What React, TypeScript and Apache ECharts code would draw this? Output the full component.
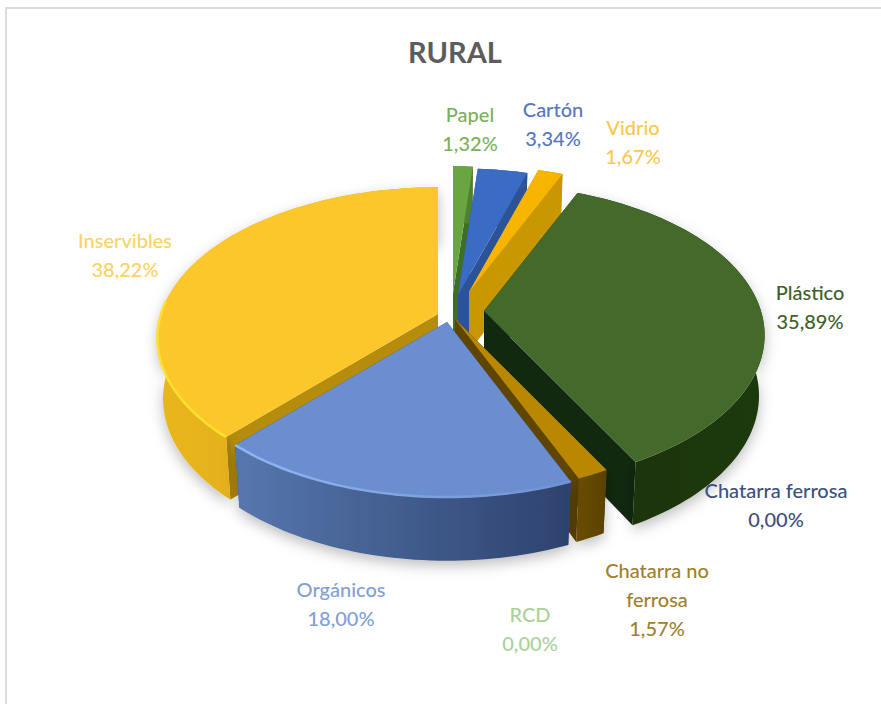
import React, { useEffect, useRef } from "react";
import * as echarts from "echarts";

// ---- data, clockwise from 12 o'clock ----
const categories = ["Papel", "Cartón", "Vidrio", "Plástico", "Chatarra ferrosa", "Chatarra no ferrosa", "RCD", "Orgánicos", "Inservibles"];
const shares = [1.32, 3.34, 1.67, 35.89, 0, 1.57, 0, 18.0, 38.22];
const shareLabels = ["1,32%", "3,34%", "1,67%", "35,89%", "0,00%", "1,57%", "0,00%", "18,00%", "38,22%"];

// ---- layout and styling ----
const paintOrder = [0, 1, 2, 8, 3, 5, 7];
const labelLines = ["Papel", "Cartón", "Vidrio", "Plástico", "Chatarra ferrosa", "Chatarra no\nferrosa", "RCD", "Orgánicos", "Inservibles"];
const labelAnchor = [[470, 128], [553, 123], [633, 141], [810, 306], [776, 504], [657, 599], [530, 628], [341, 603], [125, 254]];
const labelColors = ["#7cb05a", "#5577c0", "#fcc74a", "#3f5f2b", "#3c5080", "#a08030", "#a9d196", "#80a0d6", "#fdd263"];
const explodedApex = [[453, 293], [458, 295], [469, 292], [484, 311], [0, 0], [455, 319], [0, 0], [447, 322], [438, 314]];
const topColors = ["#69a540", "#3a6cc6", "#f7b500", "#436a2b", "", "#b98800", "", "#6a8ed0", "#fcc72a"];
const rimStart = ["", "", "", "", "", "", "", "#6f93d4", "#ffe02e"];
const rimEnd = ["", "", "", "", "", "", "", "#90b6f3", "#ffe02e"];
const radialWall = ["#3f6e28", "#2c5398", "#c99800", "#10290f", "", "#5f4500", "", "#2f4470", "#b58c0c"];
const outerWall: string[][] = [
  ["#4f8030", "#4f8030"], ["#2c5398", "#2c5398"], ["#c99800", "#c99800"], ["#1a320f", "#1f3a11"], [],
  ["#6b4e00", "#5a4100"], [], ["#5677ae", "#2e426e"], ["#e9b61f", "#d9a51c"],
];
const castsShadow = [false, false, false, true, false, true, false, true, true];

const RX = 277, RY = 147, PERSPECTIVE = 0.16, DEPTH = 60, TAPER = 0.98;

function project(ax: number, ay: number, th: number, r: number, bottom: boolean) {
  const u = r * Math.sin(th), v = -r * Math.cos(th);
  const s = 1 / (1 - PERSPECTIVE * v);
  let x = RX * u * s, y = RY * v * s;
  if (bottom) {
    x *= TAPER;
    y = y * 0.99 + DEPTH * Math.sqrt(s);
  }
  return [ax + x, ay + y];
}

const total = shares.reduce((a, b) => a + b, 0);
const startOf = (i: number) => shares.slice(0, i).reduce((a, b) => a + b, 0);

function arc(ax: number, ay: number, t0: number, t1: number, bottom: boolean) {
  const n = Math.max(2, Math.ceil((t1 - t0) / 0.025));
  const pts: number[][] = [];
  for (let k = 0; k <= n; k++) pts.push(project(ax, ay, t0 + ((t1 - t0) * k) / n, 1, bottom));
  return pts;
}

function renderSlice(_: any, api: any) {
  const i = api.value(2) as number;
  const t0 = (api.value(1) / total) * 2 * Math.PI;
  const t1 = t0 + (api.value(0) / total) * 2 * Math.PI;
  const [ax, ay] = explodedApex[i];
  const topArc = arc(ax, ay, t0, t1, false);
  const botArc = arc(ax, ay, t0, t1, true);
  const apexTop = project(ax, ay, 0, 0, false);
  const apexBot = project(ax, ay, 0, 0, true);
  const children: any[] = [];
  const wall = (points: number[][], fill: any, extra: any = {}) =>
    children.push({ type: "polygon", shape: { points }, style: { fill, ...extra }, silent: true });

  // radial walls go first: the outer wall and the top hide whichever one faces away
  wall([apexTop, topArc[0], botArc[0], apexBot], radialWall[i]);
  wall([apexTop, topArc[topArc.length - 1], botArc[botArc.length - 1], apexBot], radialWall[i]);
  wall(
    [...topArc, ...botArc.slice().reverse()],
    new echarts.graphic.LinearGradient(0, 0, 1, 0, [
      { offset: 0, color: outerWall[i][0] },
      { offset: 1, color: outerWall[i][1] },
    ]),
    castsShadow[i] ? { shadowColor: "rgba(0,0,0,0.26)", shadowBlur: 14, shadowOffsetY: 5 } : {}
  );
  wall([apexTop, ...topArc], topColors[i]);
  const frontRim = topArc.filter((_p, k) => {
    const th = t0 + ((t1 - t0) * k) / (topArc.length - 1);
    return Math.cos(th) < 0.1;
  });
  if (frontRim.length > 1 && rimStart[i]) {
    children.push({
      type: "polyline",
      shape: { points: frontRim },
      style: {
        stroke: new echarts.graphic.LinearGradient(0, 0, 1, 0, [
          { offset: 0, color: rimEnd[i] },
          { offset: 1, color: rimStart[i] },
        ]),
        lineWidth: 2.5,
        fill: "none",
      },
      silent: true,
    });
  }
  return { type: "group", children };
}

function renderLabel(_: any, api: any) {
  const i = api.value(0) as number;
  return {
    type: "text",
    x: labelAnchor[i][0],
    y: labelAnchor[i][1],
    silent: true,
    style: {
      text: labelLines[i] + "\n" + shareLabels[i],
      fill: labelColors[i],
      font: "500 20px Lato",
      lineHeight: 29,
      align: "center",
      verticalAlign: "middle",
    },
  };
}

export default function App() {
  const ref = useRef<HTMLDivElement>(null);
  useEffect(() => {
    const chart = echarts.init(ref.current!, undefined, { renderer: "svg" });
    chart.setOption({
      animation: false,
      backgroundColor: "#ffffff",
      title: {
        text: "RURAL",
        left: 450,
        top: 32,
        textAlign: "center",
        textStyle: { fontFamily: "Lato", fontSize: 29, fontWeight: "bold", color: "#5c5c5c" },
      },
      graphic: [
        {
          type: "line",
          silent: true,
          shape: { x1: 5, y1: 8, x2: 881, y2: 8 },
          style: { stroke: "#dcdcdc", lineWidth: 2 },
        },
        {
          type: "line",
          silent: true,
          shape: { x1: 6, y1: 8, x2: 6, y2: 704 },
          style: { stroke: "#dcdcdc", lineWidth: 2 },
        },
      ],
      series: [
        {
          type: "custom",
          coordinateSystem: "none",
          renderItem: renderSlice,
          clip: false,
          data: paintOrder.map((i) => [shares[i], startOf(i), i]),
          z: 2,
        },
        {
          type: "custom",
          coordinateSystem: "none",
          renderItem: renderLabel,
          data: categories.map((_c, i) => [i]),
          z: 3,
        },
      ],
    });
    return () => chart.dispose();
  }, []);
  return <div ref={ref} style={{ position: "absolute", left: 0, top: 0, width: 881, height: 704 }} />;
}
